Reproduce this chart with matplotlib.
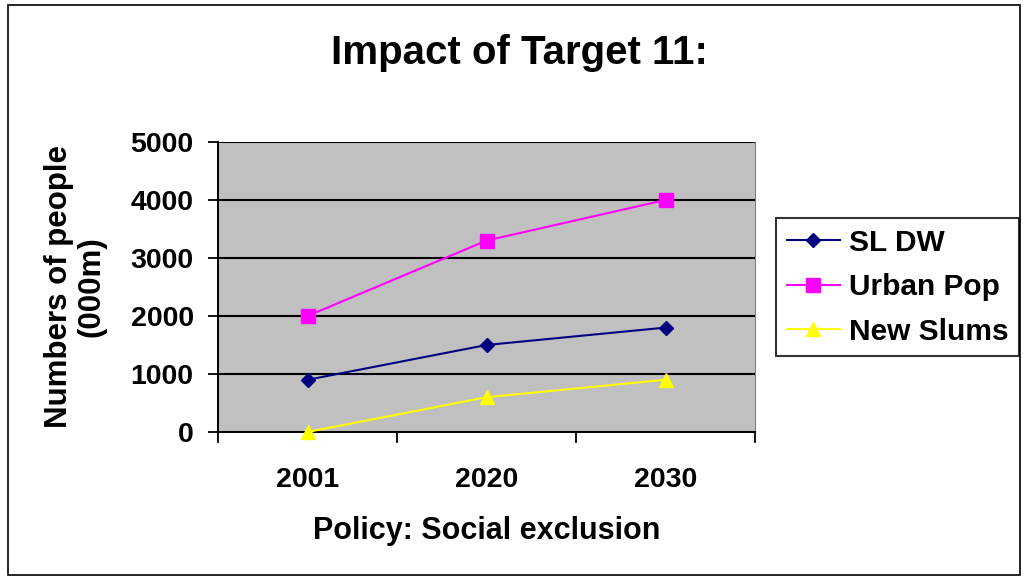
import matplotlib
matplotlib.use("Agg")
import matplotlib.pyplot as plt
from matplotlib.patches import Rectangle

years = ["2001", "2020", "2030"]
sl_dw = [900, 1500, 1800]
urban_pop = [2000, 3300, 4000]
new_slums = [0, 600, 900]
y_ticks = [0, 1000, 2000, 3000, 4000, 5000]

plt.rcParams["font.family"] = ["Liberation Sans", "DejaVu Sans"]
plt.rcParams["font.weight"] = "bold"

fig = plt.figure(figsize=(10.28, 5.79), dpi=100)
fig.patch.set_facecolor("white")
fig.add_artist(Rectangle((0.008, 0.007), 0.984, 0.985, transform=fig.transFigure,
                         fill=False, edgecolor="black", linewidth=1.2))

ax = fig.add_axes([0.2121, 0.2539, 0.5224, 0.5009])
ax.set_facecolor("#C0C0C0")

x = list(range(len(years)))
ax.plot(x, sl_dw, color="#000080", marker="D", markersize=7.5, linewidth=1.5,
        label="SL DW", clip_on=False, zorder=3)
ax.plot(x, urban_pop, color="#FF00FF", marker="s", markersize=10, linewidth=1.5,
        label="Urban Pop", clip_on=False, zorder=3)
ax.plot(x, new_slums, color="#FFFF00", marker="^", markersize=10.5, linewidth=1.5,
        label="New Slums", clip_on=False, zorder=3)

ax.set_xlim(-0.5, 2.5)
ax.set_ylim(0, 5000)
ax.set_yticks(y_ticks)
ax.set_yticklabels([str(v) for v in y_ticks], fontsize=20.5, fontweight="bold")
ax.set_xticks(x)
ax.set_xticklabels(years, fontsize=20.5, fontweight="bold")
ax.tick_params(axis="x", length=0, pad=25)
ax.tick_params(axis="y", length=7.5, width=1.3, direction="out", pad=10)
# category boundary ticks on the x axis
for b in [-0.5, 0.5, 1.5, 2.5]:
    ax.plot([b, b], [0, -0.036], transform=ax.get_xaxis_transform(),
            color="black", linewidth=1.3, clip_on=False)

ax.grid(axis="y", color="black", linewidth=1.5)
ax.set_axisbelow(True)
ax.spines["top"].set_visible(False)
ax.spines["right"].set_color("#808080")
ax.spines["left"].set_linewidth(1.4)
ax.spines["bottom"].set_linewidth(1.4)

ax.set_xlabel("Policy: Social exclusion", fontsize=22, fontweight="bold", labelpad=17)
ax.set_ylabel("Numbers of people\n(000m)", fontsize=22.5, fontweight="bold", labelpad=17,
              linespacing=1.15)
fig.text(0.505, 0.908, "Impact of Target 11:", ha="center", va="center",
         fontsize=29, fontweight="bold")

leg = fig.legend(loc="upper left", bbox_to_anchor=(0.755, 0.623), fontsize=21.5,
                 frameon=True, fancybox=False, edgecolor="black", handlelength=1.8,
                 borderpad=0.35, labelspacing=0.55, handletextpad=0.3,
                 borderaxespad=0)
leg.get_frame().set_linewidth(1.5)
for t in leg.get_texts():
    t.set_fontweight("bold")

fig.savefig("out.png", dpi=100, facecolor="white")
